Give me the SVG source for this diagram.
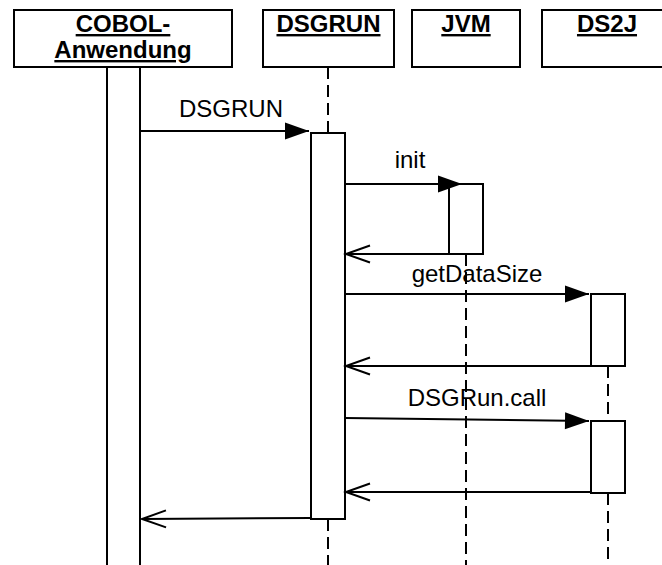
<svg xmlns="http://www.w3.org/2000/svg" width="662" height="565" viewBox="0 0 662 565">
<style>
.box{fill:#fff;stroke:#000;stroke-width:2}
.life{stroke:#000;stroke-width:2;stroke-dasharray:12 6;fill:none}
.msg{stroke:#000;stroke-width:2;fill:none}
.hd{font-family:"Liberation Sans",Arial,sans-serif;font-size:24px;font-weight:bold;text-anchor:middle;text-decoration:underline}
.lb{font-family:"Liberation Sans",Arial,sans-serif;font-size:24px;text-anchor:middle}
</style>
<defs>
<marker id="filled" markerUnits="userSpaceOnUse" markerWidth="24" markerHeight="17" refX="24" refY="8.5" orient="auto" overflow="visible">
<path d="M0,0 L24,8.5 L0,17 z" fill="#000"/>
</marker>
<marker id="open" markerUnits="userSpaceOnUse" markerWidth="24" markerHeight="17" refX="24" refY="8.5" orient="auto" overflow="visible">
<path d="M0,0 L24,8.5 L0,17" fill="none" stroke="#000" stroke-width="2"/>
</marker>
</defs>
<rect width="662" height="565" fill="#fff"/>
<g id="cobol">
<rect class="box" x="14" y="10" width="218" height="57"/>
<text class="hd" x="123" y="32">COBOL-</text>
<text class="hd" x="123" y="58">Anwendung</text>
<rect class="box" x="107" y="67" width="33" height="520"/>
</g>
<g id="dsgrun">
<rect class="box" x="263" y="10" width="131" height="57"/>
<text class="hd" x="328.5" y="32">DSGRUN</text>
<line class="life" x1="328" y1="67" x2="328" y2="133"/>
<line class="life" x1="328" y1="519" x2="328" y2="565"/>
<rect class="box" x="311" y="133" width="34" height="386"/>
</g>
<g id="jvm">
<rect class="box" x="412" y="10" width="108" height="57"/>
<text class="hd" x="466" y="32">JVM</text>
<line class="life" x1="466" y1="254" x2="466" y2="565"/>
<rect class="box" x="449" y="184" width="34" height="70"/>
</g>
<g id="ds2j">
<rect class="box" x="542" y="10" width="130" height="57"/>
<text class="hd" x="607" y="32">DS2J</text>
<line class="life" x1="608" y1="366" x2="608" y2="421"/>
<line class="life" x1="608" y1="493" x2="608" y2="565"/>
<rect class="box" x="591" y="294" width="34" height="72"/>
<rect class="box" x="591" y="421" width="34" height="72"/>
</g>
<g id="connectors">
<line class="msg" x1="140" y1="131" x2="309" y2="131" marker-end="url(#filled)"/>
<text class="lb" x="231" y="117">DSGRUN</text>
<line class="msg" x1="345" y1="184" x2="462" y2="184" marker-end="url(#filled)"/>
<text class="lb" x="410" y="168">init</text>
<line class="msg" x1="449" y1="254" x2="346" y2="254" marker-end="url(#open)"/>
<line class="msg" x1="345" y1="294" x2="589" y2="294" marker-end="url(#filled)"/>
<text class="lb" x="477" y="282">getDataSize</text>
<line class="msg" x1="591" y1="366" x2="346" y2="366" marker-end="url(#open)"/>
<line class="msg" x1="345" y1="418" x2="589" y2="421" marker-end="url(#filled)"/>
<text class="lb" x="477" y="406">DSGRun.call</text>
<line class="msg" x1="591" y1="492" x2="346" y2="492" marker-end="url(#open)"/>
<line class="msg" x1="311" y1="518" x2="142" y2="519" marker-end="url(#open)"/>
</g>
</svg>
